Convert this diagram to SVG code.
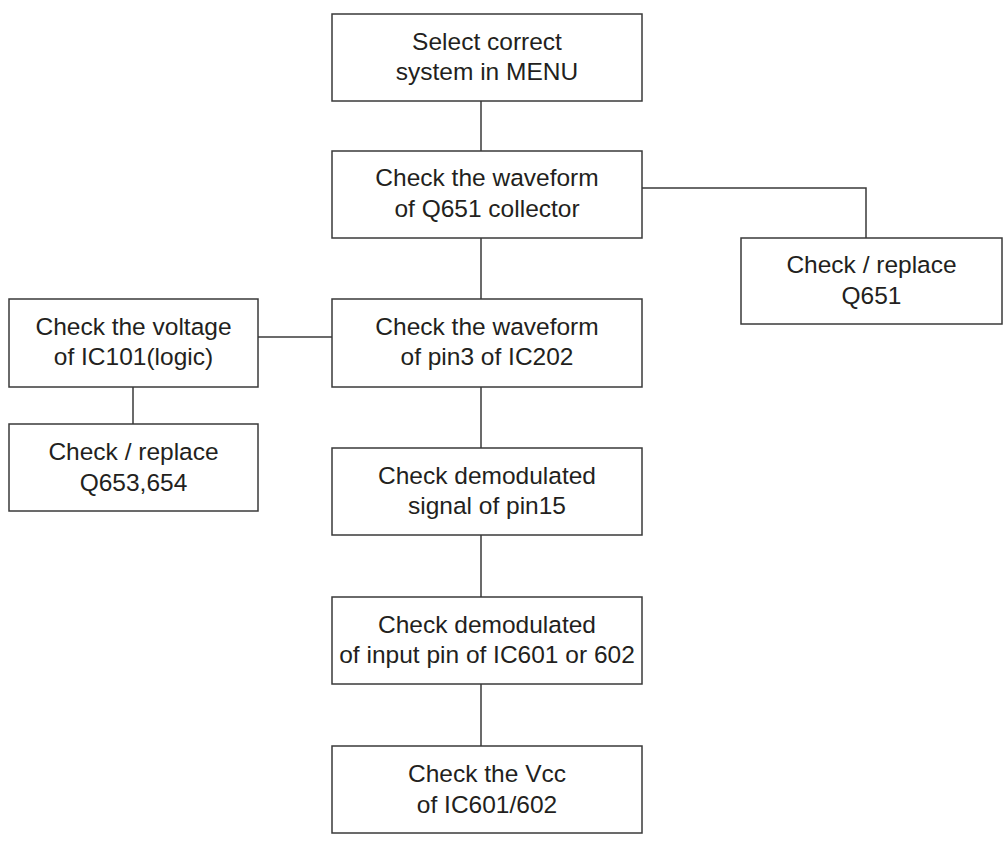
<svg xmlns="http://www.w3.org/2000/svg" width="1008" height="843" viewBox="0 0 1008 843">
<style>
.box{fill:#fff;stroke:#3a3a3a;stroke-width:1.5}
.lbl{font-family:"Liberation Sans",Arial,sans-serif;font-size:24.5px;fill:#231f20;text-anchor:middle}
.con{fill:none;stroke:#3a3a3a;stroke-width:1.5}
</style>
<rect width="1008" height="843" fill="#fff"/>
<g id="connectors">
<path class="con" d="M481 101V151"/>
<path class="con" d="M642 188H866V238"/>
<path class="con" d="M481 238V299"/>
<path class="con" d="M258 337H332"/>
<path class="con" d="M133 387V424"/>
<path class="con" d="M481 387V448"/>
<path class="con" d="M481 535V597"/>
<path class="con" d="M481 684V746"/>
</g>
<g id="n1"><rect class="box" x="332" y="14" width="310" height="87"/>
<text class="lbl" x="487" y="50">Select correct</text><text class="lbl" x="487" y="80">system in MENU</text></g>
<g id="n2"><rect class="box" x="332" y="151" width="310" height="87"/>
<text class="lbl" x="487" y="186">Check the waveform</text><text class="lbl" x="487" y="217">of Q651 collector</text></g>
<g id="n3"><rect class="box" x="741" y="238" width="261" height="86"/>
<text class="lbl" x="871.5" y="273">Check / replace</text><text class="lbl" x="871.5" y="304">Q651</text></g>
<g id="n4"><rect class="box" x="9" y="299" width="249" height="88"/>
<text class="lbl" x="133.5" y="335">Check the voltage</text><text class="lbl" x="133.5" y="365">of IC101(logic)</text></g>
<g id="n5"><rect class="box" x="332" y="299" width="310" height="88"/>
<text class="lbl" x="487" y="335">Check the waveform</text><text class="lbl" x="487" y="365">of pin3 of IC202</text></g>
<g id="n6"><rect class="box" x="9" y="424" width="249" height="87"/>
<text class="lbl" x="133.5" y="459.5">Check / replace</text><text class="lbl" x="133.5" y="490.5">Q653,654</text></g>
<g id="n7"><rect class="box" x="332" y="448" width="310" height="87"/>
<text class="lbl" x="487" y="483.5">Check demodulated</text><text class="lbl" x="487" y="514">signal of pin15</text></g>
<g id="n8"><rect class="box" x="332" y="597" width="310" height="87"/>
<text class="lbl" x="487" y="632.5">Check demodulated</text><text class="lbl" x="487" y="663">of input pin of IC601 or 602</text></g>
<g id="n9"><rect class="box" x="332" y="746" width="310" height="87"/>
<text class="lbl" x="487" y="781.5">Check the Vcc</text><text class="lbl" x="487" y="812.5">of IC601/602</text></g>
</svg>
